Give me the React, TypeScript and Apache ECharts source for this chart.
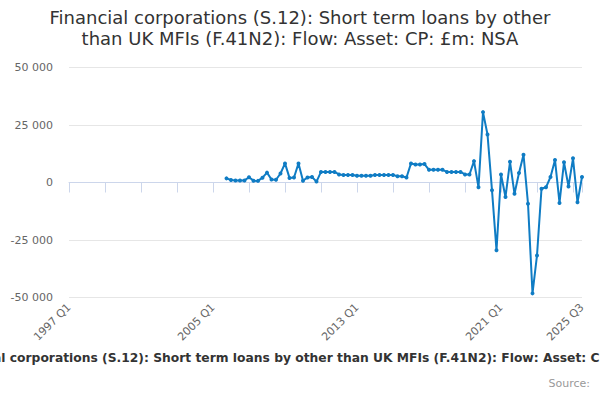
import React, { useEffect, useRef } from "react";
import * as echarts from "echarts";

const TITLE =
  "Financial corporations (S.12): Short term loans by other\nthan UK MFIs (F.41N2): Flow: Asset: CP: £m: NSA";
const SERIES_NAME =
  "Financial corporations (S.12): Short term loans by other than UK MFIs (F.41N2): Flow: Asset: CP: £m: NSA";

const years = [1997, 1998, 1999, 2000, 2001, 2002, 2003, 2004, 2005, 2006, 2007, 2008, 2009, 2010, 2011, 2012, 2013, 2014, 2015, 2016, 2017, 2018, 2019, 2020, 2021, 2022, 2023, 2024, 2025];
const categories: string[] = [];
years.forEach((y) => {
  ["Q1", "Q2", "Q3", "Q4"].forEach((q) => {
    if (y === 2025 && q === "Q4") return;
    categories.push(`${y} ${q}`);
  });
});

// 2005 Q4 onwards (earlier quarters have no data)
const values: number[] = [
  1800, 1100, 900, 900, 900, 2300, 800, 700, 2100, 4300,
  1300, 1200, 3900, 8300, 2000, 2200, 8300, 800, 2200, 2400,
  400, 4600, 4600, 4600, 4600, 3500, 3300, 3300, 3300, 2900,
  2900, 2900, 2900, 3300, 3300, 3300, 3300, 3300, 2700, 2700,
  2200, 8300, 7800, 7800, 8000, 5500, 5500, 5500, 5500, 4600,
  4600, 4600, 4600, 3500, 3500, 9300, -2100, 30600, 20900, -3400,
  -29500, 3500, -6300, 9000, -4900, 4100, 12100, -9200, -48200, -31700,
  -2700, -2100, 2400, 9800, -8900, 8800, -1700, 10500, -8600, 2400,
];
const seriesData: (number | null)[] = [
  ...new Array(categories.length - values.length).fill(null),
  ...values,
];

const fmt = (v: number) => {
  const s = Math.abs(v).toString().replace(/\B(?=(\d{3})+(?!\d))/g, " ");
  return (v < 0 ? "-" : "") + s;
};

export default function App() {
  const ref = useRef<HTMLDivElement>(null);
  useEffect(() => {
    if (!ref.current) return;
    const chart = echarts.init(ref.current, null, { renderer: "svg" });
    const last = categories.length - 1;
    chart.setOption({
      animation: false,
      backgroundColor: "#ffffff",
      textStyle: { fontFamily: "DejaVu Sans" },
      title: {
        text: TITLE,
        left: "center",
        top: 2,
        textStyle: {
          fontFamily: "DejaVu Sans",
          fontSize: 18,
          fontWeight: "normal",
          color: "#333333",
          lineHeight: 21,
        },
      },
      grid: { left: 69, right: 18, top: 67.5, bottom: 102.5, containLabel: false },
      xAxis: {
        type: "category",
        data: categories,
        boundaryGap: false,
        axisLine: { lineStyle: { color: "#ccd6eb", width: 1 } },
        axisTick: {
          length: 10,
          lineStyle: { color: "#ccd6eb" },
          interval: (i: number) => i % 8 === 0 || i === last,
        },
        axisLabel: {
          rotate: 45,
          margin: 8,
          color: "#666666",
          fontSize: 11,
          fontFamily: "DejaVu Sans",
          interval: (i: number) => i % 32 === 0 || i === last,
        },
        splitLine: { show: false },
      },
      yAxis: {
        type: "value",
        min: -50000,
        max: 50000,
        interval: 25000,
        axisLine: { show: false },
        axisTick: { show: false },
        axisLabel: {
          color: "#666666",
          fontSize: 11,
          margin: 16,
          fontFamily: "DejaVu Sans",
          formatter: (v: number) => fmt(v),
        },
        splitLine: { lineStyle: { color: "#e6e6e6", width: 1 } },
      },
      series: [
        {
          name: SERIES_NAME,
          type: "line",
          data: seriesData,
          symbol: "circle",
          symbolSize: 4,
          showSymbol: true,
          showAllSymbol: true,
          lineStyle: { color: "#0f7cc4", width: 2 },
          itemStyle: { color: "#0f7cc4" },
        },
      ],
      graphic: [
        {
          type: "text",
          x: 310,
          y: 358,
          style: {
            text: SERIES_NAME,
            textAlign: "center",
            textVerticalAlign: "middle",
            fontFamily: "DejaVu Sans",
            fontSize: 12.3,
            fontWeight: "bold",
            fill: "#333333",
          },
        },
        {
          type: "text",
          x: 590,
          y: 383,
          style: {
            text: "Source:",
            textAlign: "right",
            textVerticalAlign: "middle",
            fontFamily: "DejaVu Sans",
            fontSize: 11,
            fill: "#999999",
          },
        },
      ],
    });
    return () => chart.dispose();
  }, []);
  return (
    <div
      ref={ref}
      style={{ position: "fixed", left: 0, top: 0, width: 600, height: 400 }}
    />
  );
}
